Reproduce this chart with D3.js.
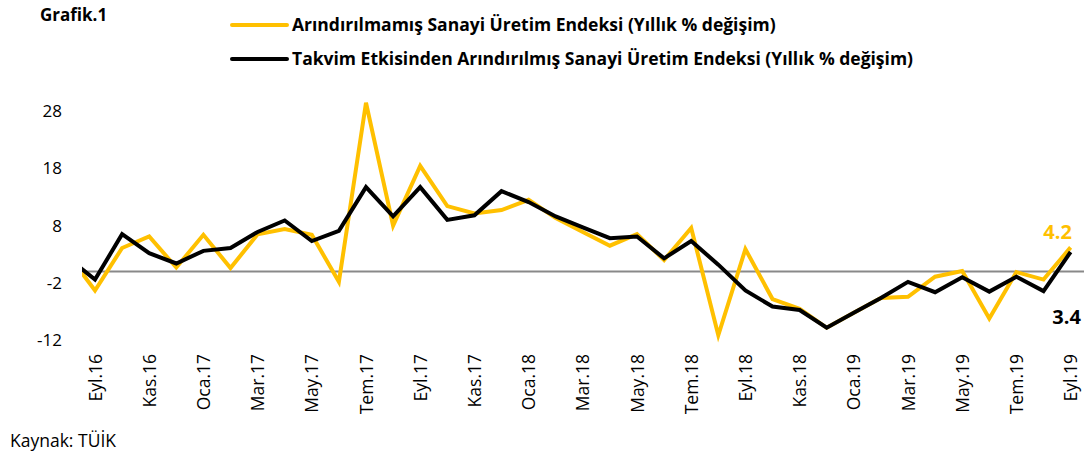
<!DOCTYPE html>
<html>
<head>
<meta charset="utf-8">
<script src="https://cdn.jsdelivr.net/npm/d3@7"></script>
<style>
  body { margin: 0; background: #fff; }
  svg { display: block; font-family: "Open Sans", "Noto Sans", sans-serif; }
</style>
</head>
<body>
<svg id="chart"></svg>
<script>
// aylar (ilk ay Ağu.16 sadece çizginin sol kenardan girişi için)
const months = [
  "Ağu.16", "Eyl.16", "Eki.16", "Kas.16", "Ara.16",
  "Oca.17", "Şub.17", "Mar.17", "Nis.17", "May.17", "Haz.17",
  "Tem.17", "Ağu.17", "Eyl.17", "Eki.17", "Kas.17", "Ara.17",
  "Oca.18", "Şub.18", "Mar.18", "Nis.18", "May.18", "Haz.18",
  "Tem.18", "Ağu.18", "Eyl.18", "Eki.18", "Kas.18", "Ara.18",
  "Oca.19", "Şub.19", "Mar.19", "Nis.19", "May.19", "Haz.19",
  "Tem.19", "Ağu.19", "Eyl.19"
];

// Arındırılmamış (yıllık % değişim)
const unadjusted = [
  3.0, -3.3, 4.1, 6.1, 0.7,
  6.4, 0.6, 6.5, 7.4, 6.4, -1.8,
  29.4, 8.0, 18.4, 11.4, 10.1, 10.7,
  12.5, 9.3, 6.9, 4.5, 6.5, 2.0,
  7.6, -11.1, 3.9, -4.8, -6.5, -9.8,
  -7.2, -4.6, -4.4, -0.9, 0.1, -8.2,
  -0.1, -1.4, 4.2
];

// Takvim etkisinden arındırılmış
const calAdjusted = [
  2.4, -1.4, 6.5, 3.2, 1.4,
  3.6, 4.1, 6.9, 8.9, 5.3, 7.1,
  14.7, 9.6, 14.7, 9.0, 9.8, 14.0,
  12.1, 9.6, 7.7, 5.8, 6.1, 2.3,
  5.3, 1.2, -3.3, -6.1, -6.7, -9.8,
  -7.2, -4.6, -1.8, -3.6, -1.0, -3.5,
  -0.9, -3.4, 3.4
];

const yTicks = [-12, -2, 8, 18, 28];
const xTickLabels = [
  "Eyl.16", "Kas.16", "Oca.17", "Mar.17", "May.17", "Tem.17", "Eyl.17",
  "Kas.17", "Oca.18", "Mar.18", "May.18", "Tem.18", "Eyl.18", "Kas.18",
  "Oca.19", "Mar.19", "May.19", "Tem.19", "Eyl.19"
];

const seriesNames = [
  "Arındırılmamış Sanayi Üretim Endeksi (Yıllık % değişim)",
  "Takvim Etkisinden Arındırılmış Sanayi Üretim Endeksi (Yıllık % değişim)"
];

const width = 1084;
const height = 452;
const yellow = "#FFC000";

const svg = d3.select("#chart").attr("width", width).attr("height", height);

const x = d3.scalePoint().domain(months).range([67.9, 1070.6]);
const y = d3.scaleLinear().domain([-12, 28]).range([340.4, 110.8]);

// çizim alanı (sol kenarda kırpılıyor)
svg.append("defs").append("clipPath").attr("id", "plot")
  .append("rect").attr("x", 82).attr("y", 0).attr("width", width - 82).attr("height", height);

// sıfır çizgisi
svg.append("line")
  .attr("x1", 82).attr("x2", width)
  .attr("y1", y(0)).attr("y2", y(0))
  .attr("stroke", "#898989").attr("stroke-width", 2);

// y ekseni
const yAxis = svg.append("g")
  .attr("transform", "translate(62,0)")
  .call(d3.axisLeft(y).tickValues(yTicks).tickSize(0).tickPadding(0));
yAxis.select(".domain").remove();
yAxis.selectAll("text").attr("font-size", 17).attr("fill", "#000")
  .attr("font-family", "'Open Sans', sans-serif")
  .text(d => String(d).replace("−", "-"));

// x ekseni (dikey etiketler)
const xAxis = svg.append("g")
  .attr("transform", "translate(0,354)")
  .call(d3.axisBottom(x).tickValues(xTickLabels).tickSize(0).tickPadding(0));
xAxis.select(".domain").remove();
xAxis.selectAll("text")
  .attr("font-size", 17.5).attr("fill", "#000")
  .attr("font-family", "'Open Sans', sans-serif")
  .attr("transform", "rotate(-90)")
  .attr("text-anchor", "end")
  .attr("x", 0).attr("y", 0).attr("dy", "0.35em");

const line = d3.line()
  .x((d, i) => x(months[i]))
  .y(d => y(d));

const plot = svg.append("g").attr("clip-path", "url(#plot)");

plot.append("path")
  .datum(unadjusted)
  .attr("fill", "none")
  .attr("stroke", yellow)
  .attr("stroke-width", 4)
  .attr("d", line);

plot.append("path")
  .datum(calAdjusted)
  .attr("fill", "none")
  .attr("stroke", "#000")
  .attr("stroke-width", 4)
  .attr("d", line);

// son değer etiketleri
const last = months.length - 1;
svg.append("text")
  .attr("x", x(months[last]) - 13).attr("y", y(unadjusted[last]) - 8)
  .attr("text-anchor", "middle")
  .attr("font-size", 20).attr("font-weight", "bold").attr("fill", yellow)
  .text(unadjusted[last].toFixed(1));

svg.append("text")
  .attr("x", x(months[last]) - 4).attr("y", 324)
  .attr("text-anchor", "middle")
  .attr("font-size", 20).attr("font-weight", "bold").attr("fill", "#000")
  .text(calAdjusted[last].toFixed(1));

// başlık
svg.append("text")
  .attr("x", 40).attr("y", 21)
  .attr("font-size", 17).attr("font-weight", "bold")
  .text("Grafik.1");

// lejant
const legend = svg.append("g");
[yellow, "#000"].forEach((c, i) => {
  const ly = 25 + i * 34;
  legend.append("line")
    .attr("x1", 232).attr("x2", 287)
    .attr("y1", ly).attr("y2", ly)
    .attr("stroke", c).attr("stroke-width", 4).attr("stroke-linecap", "round");
  legend.append("text")
    .attr("x", 292).attr("y", ly).attr("dy", "0.35em")
    .attr("font-size", 17.5).attr("font-weight", "bold")
    .text(seriesNames[i]);
});

// kaynak
svg.append("text")
  .attr("x", 10).attr("y", 447)
  .attr("font-size", 17.5)
  .text("Kaynak: TÜİK");
</script>
</body>
</html>
